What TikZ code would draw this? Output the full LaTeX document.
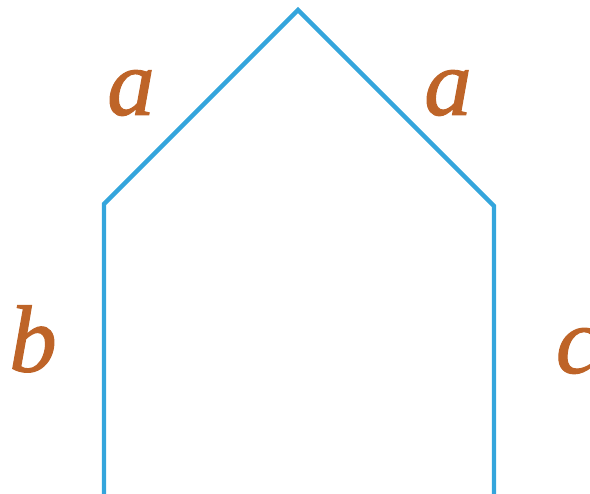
\documentclass[tikz,border=0pt]{standalone}
\usepackage{fontspec}
\setmainfont{Liberation Serif}
\newfontfamily\lblfont[FakeBold=1.2]{Liberation Serif}
\definecolor{edgeblue}{RGB}{52,165,220}
\definecolor{labelorange}{RGB}{190,100,40}
\begin{document}
\begin{tikzpicture}[x=1pt,y=-1pt,
  edge/.style={draw=edgeblue,line width=4.3pt,line join=miter},
  lbl/.style={text=labelorange,font=\lblfont\fontsize{95}{95}\selectfont\itshape,inner sep=0pt}]
\useasboundingbox (0,0) rectangle (590,494);
\clip (0,0) rectangle (590,494);
\coordinate (bl) at (104,496);
\coordinate (tl) at (104,204);
\coordinate (apex) at (298,10);
\coordinate (tr) at (494,206);
\coordinate (br) at (494,496);
\draw[edge] (bl) -- (tl) -- (apex) -- (tr) -- (br);
\node[lbl] (a1) at (131,93) {a};
\node[lbl] (a2) at (448,93) {a};
\node[lbl] (b) at (33,339) {b};
\node[lbl] (c) at (577,351) {c};
\end{tikzpicture}
\end{document}
